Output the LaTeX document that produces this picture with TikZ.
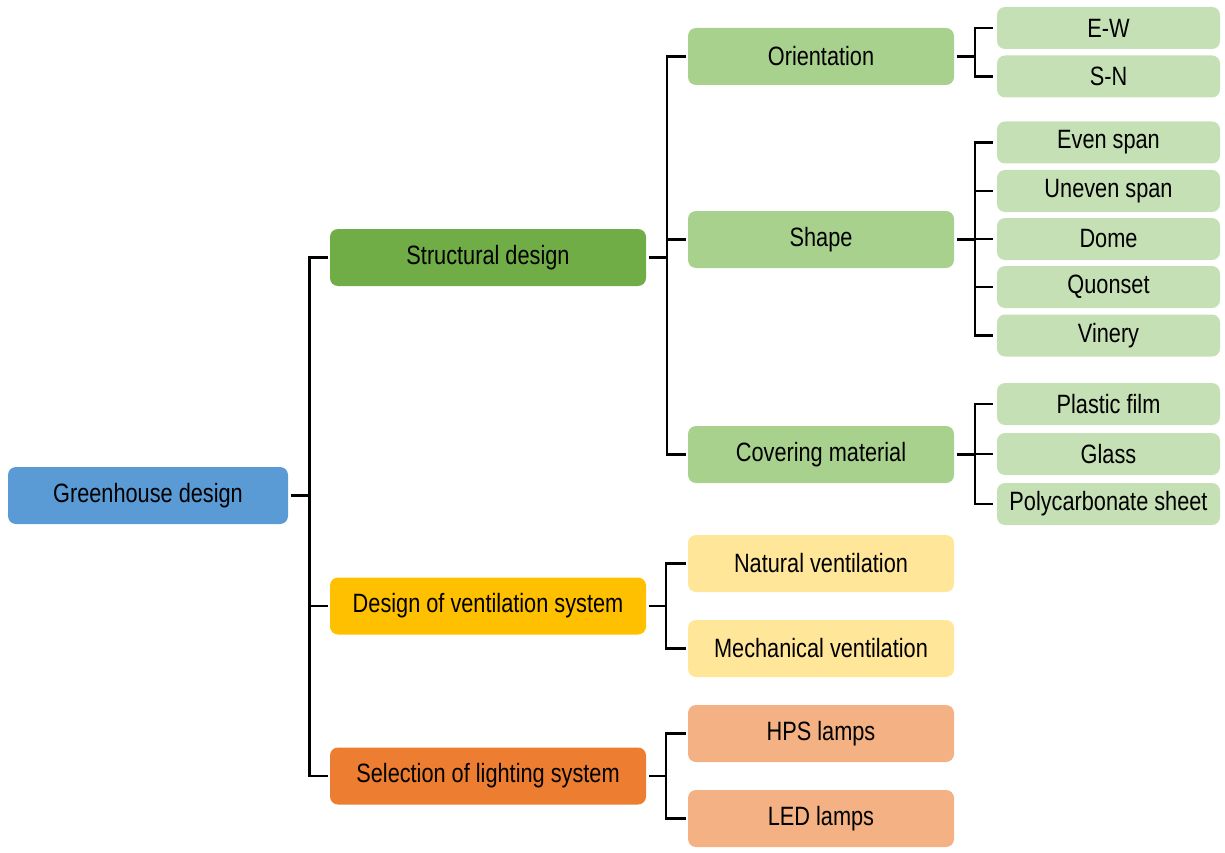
\documentclass[tikz,border=0pt]{standalone}
\usepackage{fontspec}
\setmainfont[FakeStretch=0.82]{Liberation Sans}
\definecolor{cblue}{HTML}{5B9BD5}
\definecolor{cgreen}{HTML}{70AD47}
\definecolor{cyellow}{HTML}{FFC000}
\definecolor{corange}{HTML}{ED7D31}
\definecolor{lgreen}{HTML}{A9D18E}
\definecolor{llgreen}{HTML}{C5E0B4}
\definecolor{lyellow}{HTML}{FFE699}
\definecolor{lorange}{HTML}{F4B183}
\tikzset{
  box/.style={rounded corners=8pt, inner sep=0pt, minimum height=57pt, text=black,
    font=\fontsize{26.5}{31}\selectfont},
  rootbox/.style={box, fill=cblue, minimum width=280pt},
  lonebox/.style={box, minimum width=316pt},
  ltwobox/.style={box, minimum width=266pt},
  lthreebox/.style={box, fill=llgreen, minimum width=223pt, minimum height=42pt},
  conn/.style={draw=black, line width=2.2pt, line join=miter},
}
\begin{document}
\begin{tikzpicture}[x=1pt,y=-1pt]
\useasboundingbox (0,0) rectangle (1225,853);
% root
\node[rootbox] (root) at (148,495.5) {Greenhouse design};
% level 1
\node[lonebox, fill=cgreen] (struct) at (488,257.5) {Structural design};
\node[lonebox, fill=cyellow] (vent) at (488,606) {Design of ventilation system};
\node[lonebox, fill=corange] (light) at (488,776) {Selection of lighting system};
% level 2
\node[ltwobox, fill=lgreen] (orient) at (821,56.5) {Orientation};
\node[ltwobox, fill=lgreen] (shape) at (821,239.5) {Shape};
\node[ltwobox, fill=lgreen] (cover) at (821,454.5) {Covering material};
\node[ltwobox, fill=lyellow] (nat) at (821,563.5) {Natural ventilation};
\node[ltwobox, fill=lyellow] (mech) at (821,648.5) {Mechanical ventilation};
\node[ltwobox, fill=lorange] (hps) at (821,733.5) {HPS lamps};
\node[ltwobox, fill=lorange] (led) at (821,818.5) {LED lamps};
% level 3
\node[lthreebox] (ew) at (1108.5,28) {E-W};
\node[lthreebox] (sn) at (1108.5,76.5) {S-N};
\node[lthreebox] (even) at (1108.5,142.5) {Even span};
\node[lthreebox] (uneven) at (1108.5,191) {Uneven span};
\node[lthreebox] (dome) at (1108.5,239) {Dome};
\node[lthreebox] (quon) at (1108.5,287) {Quonset};
\node[lthreebox] (vin) at (1108.5,335.5) {Vinery};
\node[lthreebox] (plast) at (1108.5,404) {Plastic film};
\node[lthreebox] (glass) at (1108.5,454) {Glass};
\node[lthreebox] (poly) at (1108.5,504) {Polycarbonate sheet};
% junction coordinates
\coordinate (j0) at (309.5,495.5);
\coordinate (j1) at (667,257.5);
\coordinate (j2) at (666,606);
\coordinate (j3) at (666,776);
\coordinate (jo) at (975,56.5);
\coordinate (js) at (975,239.5);
\coordinate (jc) at (975,454.5);
% root connectors
\draw[conn] ([xshift=3pt]root.east) -- (j0);
\draw[conn] ([xshift=-2pt]struct.west) -| (j0) |- ([xshift=-2pt]light.west);
\draw[conn] ([xshift=-2pt]vent.west) -- (j0 |- vent.west);
% structural
\draw[conn] ([xshift=3pt]struct.east) -- (j1);
\draw[conn] ([xshift=-2pt]orient.west) -| (j1) |- ([xshift=-2pt]cover.west);
\draw[conn] ([xshift=-2pt]shape.west) -- (j1 |- shape.west);
% ventilation
\draw[conn] ([xshift=3pt]vent.east) -- (j2);
\draw[conn] ([xshift=-2pt]nat.west) -| (j2) |- ([xshift=-2pt]mech.west);
% lighting
\draw[conn] ([xshift=3pt]light.east) -- (j3);
\draw[conn] ([xshift=-2pt]hps.west) -| (j3) |- ([xshift=-2pt]led.west);
% orientation
\draw[conn] ([xshift=3pt]orient.east) -- (jo);
\draw[conn] ([xshift=-4pt]ew.west) -| (jo) |- ([xshift=-4pt]sn.west);
% shape
\draw[conn] ([xshift=3pt]shape.east) -- (js);
\draw[conn] ([xshift=-4pt]even.west) -| (js) |- ([xshift=-4pt]vin.west);
\draw[conn] ([xshift=-4pt]uneven.west) -- (js |- uneven.west);
\draw[conn] ([xshift=-4pt]dome.west) -- (js |- dome.west);
\draw[conn] ([xshift=-4pt]quon.west) -- (js |- quon.west);
% covering
\draw[conn] ([xshift=3pt]cover.east) -- (jc);
\draw[conn] ([xshift=-4pt]plast.west) -| (jc) |- ([xshift=-4pt]poly.west);
\draw[conn] ([xshift=-4pt]glass.west) -- (jc |- glass.west);
\end{tikzpicture}
\end{document}
